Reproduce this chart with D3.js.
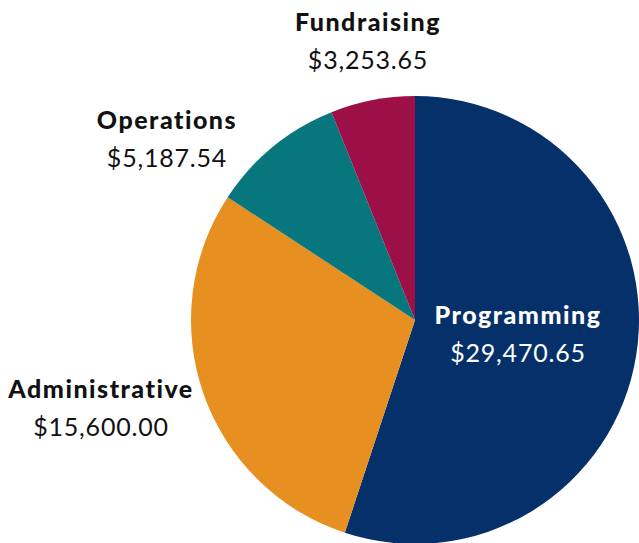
<!DOCTYPE html>
<html><head><meta charset="utf-8">
<script src="https://cdn.jsdelivr.net/npm/d3@7"></script>
<style>body{margin:0;background:#fff;} svg{display:block;}</style>
</head><body>
<svg id="c" width="639" height="543"></svg>
<script>
const categories = ["Programming", "Administrative", "Operations", "Fundraising"];
const values = [29470.65, 15600.00, 5187.54, 3253.65];
const colors = ["#05306A", "#E88F22", "#08767D", "#9C0F47"];
// label anchor positions (x, baseline of name)
const labelPos = {
  "Programming": [518, 324, "#ffffff"],
  "Administrative": [101, 398, "#111111"],
  "Operations": [167, 129, "#111111"],
  "Fundraising": [368, 31, "#111111"]
};
const svg = d3.select("#c");
const cx = 415, cy = 320, r = 224;
const data = categories.map((c, i) => ({name: c, value: values[i], color: colors[i]}));
const pie = d3.pie().sort(null).value(d => d.value);
const arc = d3.arc().innerRadius(0).outerRadius(r);
const g = svg.append("g").attr("transform", `translate(${cx},${cy})`);
g.selectAll("path").data(pie(data)).join("path")
  .attr("d", arc).attr("fill", d => d.data.color);
const fmt = d3.format("$,.2f");
const lab = svg.append("g");
data.forEach(d => {
  const [x, y, col] = labelPos[d.name];
  lab.append("text").attr("x", x).attr("y", y).attr("text-anchor", "middle")
    .attr("font-family", "Lato, sans-serif").attr("font-weight", 900).attr("font-size", 25)
    .attr("letter-spacing", 1.5).attr("fill", col).text(d.name);
  lab.append("text").attr("x", x).attr("y", y + 38).attr("text-anchor", "middle")
    .attr("font-family", "Lato, sans-serif").attr("font-weight", 400).attr("font-size", 25)
    .attr("letter-spacing", 0.8).attr("fill", col).text(fmt(d.value));
});
</script>
</body></html>
